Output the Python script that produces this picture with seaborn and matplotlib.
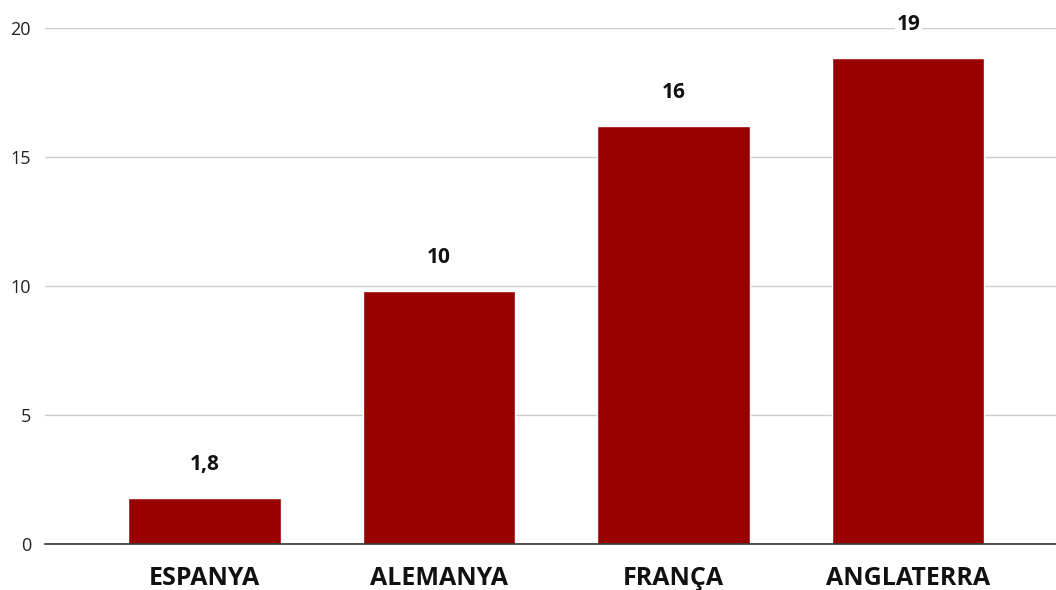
import pandas as pd
import matplotlib.pyplot as plt
import seaborn as sns

countries = ['ESPANYA', 'ALEMANYA', 'FRANÇA', 'ANGLATERRA']
values = [1.78, 9.8, 16.2, 18.85]
value_labels = ['1,8', '10', '16', '19']
y_ticks = [0, 5, 10, 15, 20]

df = pd.DataFrame({'Country': countries, 'Value': values})

sns.set_style('white')
plt.rcParams['font.family'] = ['Open Sans', 'DejaVu Sans']

fig = plt.figure(figsize=(10.56, 5.90), dpi=100)
ax = fig.add_axes([45 / 1056, 1 - 544 / 590, 1 - 45 / 1056, (544 - 28) / 590])

sns.barplot(data=df, x='Country', y='Value', color='#990000', width=0.65,
            saturation=1, ax=ax, zorder=2)

for i, (v, lab) in enumerate(zip(values, value_labels)):
    ax.text(i, v + 1.3, lab, ha='center', va='center', fontsize=15,
            fontweight='bold', color='#111111', zorder=3,
            bbox=dict(facecolor='white', edgecolor='none', pad=1))

ax.set_ylim(0, 20)
ax.set_xlim(-0.68, 3.63)
ax.set_yticks(y_ticks)
ax.yaxis.grid(True, color='#cccccc', linewidth=1)
ax.set_axisbelow(True)
for s in ['top', 'right', 'left']:
    ax.spines[s].set_visible(False)
ax.spines['bottom'].set_color('#333333')
ax.spines['bottom'].set_linewidth(1.2)
ax.spines['bottom'].set_zorder(4)
ax.tick_params(axis='y', length=0, labelsize=13, labelcolor='#222222', pad=10)
ax.tick_params(axis='x', length=0, labelsize=18, labelcolor='#111111', pad=16)
for t in ax.get_xticklabels():
    t.set_fontweight('bold')
ax.set_xlabel('')
ax.set_ylabel('')

fig.savefig('out.png', dpi=100)
